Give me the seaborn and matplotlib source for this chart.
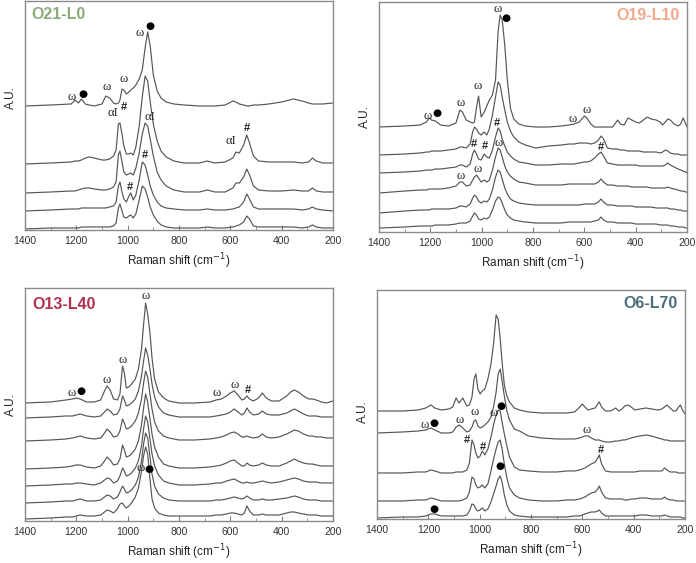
import pandas as pd
import seaborn as sns
import matplotlib.pyplot as plt
from matplotlib.ticker import MultipleLocator

# Raman spectra, stacked intensities (A.U.), top trace first

wn_o21 = [1400, 1300, 1220, 1205, 1192, 1180, 1165, 1150, 1130, 1100,
          1085, 1070, 1055, 1045, 1036, 1030, 1022, 1015, 1005, 995,
          988, 978, 968, 955, 943, 932, 922, 912, 900, 885,
          870, 850, 820, 780, 720, 690, 660, 620, 590, 578,
          565, 548, 536, 525, 510, 490, 450, 400, 354, 320,
          295, 280, 265, 240, 200]
o21_traces = [
    [124, 125, 126, 130, 127, 131, 126, 125, 124, 126,
     134, 132, 127, 126, 127, 130, 141, 140, 136, 138,
     140, 142, 145, 151, 160, 182, 198, 184, 155, 139,
     132, 128, 126, 125, 124, 124, 124, 125, 129, 128,
     126, 125, 124, 124, 125, 125, 126, 128, 131, 129,
     127, 126, 126, 126, 127],
    [66, 67, 68, 69, 69, 70, 72, 73, 72, 70,
     70, 71, 74, 80, 106, 107, 96, 84, 76, 76,
     77, 75, 83, 104, 133, 154, 149, 128, 106, 89,
     79, 73, 69, 67, 67, 69, 67, 68, 72, 78,
     77, 85, 95, 87, 74, 69, 68, 68, 68, 67,
     68, 72, 69, 67, 67],
    [37, 38, 39, 39, 40, 41, 42, 42, 41, 40,
     40, 41, 43, 48, 75, 79, 68, 58, 55, 56,
     57, 55, 62, 77, 96, 107, 104, 91, 74, 58,
     50, 44, 40, 38, 38, 40, 38, 38, 42, 47,
     47, 53, 61, 55, 44, 40, 39, 39, 40, 39,
     39, 42, 39, 38, 38],
    [19, 20, 21, 21, 21, 22, 22, 22, 22, 22,
     22, 23, 24, 28, 44, 48, 38, 31, 28, 34,
     37, 30, 35, 50, 68, 65, 55, 44, 35, 28,
     24, 22, 21, 20, 20, 21, 20, 20, 21, 22,
     23, 28, 36, 31, 23, 21, 21, 21, 21, 20,
     21, 23, 21, 20, 19],
    [1, 2, 2, 2, 2, 3, 3, 3, 3, 3,
     3, 3, 4, 7, 22, 26, 19, 13, 12, 14,
     15, 12, 16, 30, 44, 41, 33, 23, 15, 9,
     5, 3, 2, 2, 2, 3, 2, 2, 3, 4,
     5, 8, 14, 11, 4, 3, 3, 3, 3, 2,
     3, 5, 3, 2, 2],
]

wn_o19 = [1400, 1300, 1240, 1215, 1205, 1195, 1180, 1160, 1130, 1100,
          1085, 1075, 1060, 1045, 1035, 1028, 1020, 1012, 1002, 990,
          980, 970, 958, 946, 936, 928, 920, 910, 900, 888,
          875, 855, 830, 790, 740, 690, 660, 640, 620, 600,
          590, 575, 560, 545, 535, 525, 510, 490, 470, 460,
          445, 430, 415, 400, 385, 370, 355, 340, 320, 305,
          295, 285, 275, 265, 250, 235, 225, 215, 205, 200]
o19_traces = [
    [105, 106, 107, 110, 114, 112, 111, 107, 106, 109,
     122, 120, 112, 110, 109, 110, 125, 136, 115, 120,
     126, 132, 137, 152, 200, 217, 212, 187, 152, 124,
     113, 108, 106, 105, 105, 106, 107, 108, 110, 116,
     114, 108, 105, 105, 105, 105, 105, 105, 112, 108,
     107, 114, 112, 110, 109, 112, 115, 113, 112, 110,
     107, 110, 113, 112, 108, 106, 108, 114, 108, 105],
    [77, 78, 79, 80, 80, 81, 81, 81, 82, 83,
     85, 85, 84, 88, 100, 105, 103, 99, 97, 100,
     97, 103, 117, 135, 150, 147, 135, 122, 110, 101,
     95, 90, 87, 84, 86, 87, 88, 88, 89, 89,
     89, 88, 89, 92, 96, 93, 84, 83, 83, 82,
     82, 81, 81, 81, 81, 80, 80, 80, 80, 79,
     80, 82, 81, 79, 78, 78, 77, 77, 77, 77],
    [59, 60, 61, 62, 62, 62, 63, 63, 64, 65,
     67, 67, 65, 68, 78, 82, 78, 73, 72, 78,
     75, 74, 82, 95, 104, 101, 93, 86, 80, 76,
     73, 70, 69, 67, 67, 68, 68, 68, 69, 70,
     70, 71, 74, 78, 80, 76, 69, 68, 67, 67,
     67, 67, 67, 67, 66, 66, 66, 66, 66, 66,
     66, 67, 69, 67, 65, 63, 62, 61, 60, 59],
    [39, 41, 42, 42, 43, 43, 43, 43, 44, 46,
     50, 50, 46, 47, 52, 55, 57, 54, 50, 52,
     50, 52, 62, 75, 84, 82, 75, 66, 60, 56,
     53, 50, 49, 47, 47, 47, 48, 48, 48, 48,
     48, 48, 48, 50, 53, 50, 47, 47, 46, 46,
     46, 46, 45, 45, 45, 45, 45, 44, 44, 44,
     44, 44, 45, 44, 43, 42, 41, 41, 40, 40],
    [19, 21, 22, 22, 22, 23, 23, 23, 23, 24,
     26, 26, 25, 28, 34, 37, 35, 31, 29, 31,
     30, 33, 42, 55, 62, 60, 53, 44, 38, 33,
     31, 29, 28, 27, 27, 27, 27, 27, 27, 28,
     28, 28, 28, 30, 33, 30, 27, 27, 26, 26,
     26, 26, 26, 25, 25, 25, 25, 25, 24, 24,
     24, 24, 24, 23, 23, 22, 22, 21, 21, 21],
    [4, 5, 6, 6, 6, 6, 7, 7, 7, 8,
     9, 9, 9, 11, 16, 19, 17, 13, 12, 14,
     13, 15, 22, 31, 35, 34, 29, 22, 17, 14,
     12, 11, 10, 9, 9, 9, 10, 10, 10, 10,
     10, 10, 11, 12, 15, 12, 10, 10, 9, 9,
     9, 9, 9, 8, 8, 8, 8, 8, 8, 7,
     7, 7, 7, 6, 6, 5, 5, 5, 4, 4],
]

wn_o13 = [1400, 1300, 1240, 1215, 1200, 1185, 1160, 1130, 1105, 1090,
          1080, 1068, 1055, 1040, 1030, 1020, 1013, 1005, 995, 985,
          970, 958, 946, 938, 930, 922, 913, 905, 895, 880,
          860, 840, 800, 740, 680, 655, 635, 615, 600, 585,
          570, 555, 545, 535, 525, 510, 490, 475, 460, 440,
          410, 380, 365, 350, 335, 315, 295, 280, 265, 245,
          225, 200]
o13_traces = [
    [118, 119, 121, 122, 123, 122, 119, 119, 121, 130,
     135, 131, 122, 121, 127, 155, 148, 133, 134, 137,
     142, 152, 172, 196, 218, 207, 188, 163, 142, 129,
     123, 120, 118, 118, 119, 121, 122, 125, 128, 130,
     126, 121, 122, 125, 122, 120, 123, 128, 123, 120,
     120, 125, 129, 131, 129, 125, 122, 122, 121, 119,
     118, 120],
    [103, 104, 105, 105, 106, 107, 105, 104, 105, 109,
     112, 110, 106, 107, 112, 125, 121, 115, 116, 118,
     122, 130, 145, 160, 173, 166, 152, 137, 124, 114,
     108, 106, 104, 104, 104, 105, 106, 107, 109, 112,
     109, 106, 108, 113, 109, 106, 107, 110, 107, 106,
     106, 108, 110, 112, 110, 107, 105, 105, 105, 104,
     104, 104],
    [80, 81, 82, 83, 84, 85, 83, 82, 83, 88,
     92, 89, 84, 85, 90, 102, 98, 92, 93, 95,
     100, 108, 122, 138, 150, 144, 127, 112, 99, 90,
     85, 83, 81, 81, 82, 83, 84, 86, 88, 89,
     87, 84, 84, 85, 84, 83, 84, 87, 84, 83,
     84, 87, 89, 91, 90, 87, 85, 85, 84, 84,
     83, 83],
    [52, 53, 54, 55, 56, 56, 54, 53, 55, 60,
     64, 61, 56, 57, 62, 76, 71, 64, 65, 67,
     72, 80, 96, 113, 127, 119, 102, 87, 74, 64,
     57, 55, 53, 53, 54, 55, 56, 58, 60, 61,
     58, 55, 55, 58, 56, 55, 56, 58, 56, 55,
     55, 58, 60, 62, 60, 58, 57, 57, 56, 55,
     55, 55],
    [35, 36, 37, 37, 38, 38, 37, 36, 38, 41,
     43, 42, 38, 40, 45, 53, 50, 45, 46, 48,
     53, 60, 75, 92, 105, 99, 82, 67, 55, 46,
     40, 38, 36, 36, 37, 38, 38, 40, 41, 42,
     40, 38, 38, 39, 38, 38, 39, 40, 39, 38,
     39, 41, 42, 43, 42, 40, 39, 39, 39, 38,
     38, 38],
    [18, 19, 20, 20, 21, 22, 20, 20, 21, 24,
     26, 25, 22, 24, 29, 35, 32, 28, 29, 31,
     36, 44, 60, 77, 88, 83, 64, 47, 35, 27,
     23, 21, 20, 20, 20, 21, 21, 22, 23, 24,
     23, 22, 23, 25, 23, 21, 21, 22, 21, 21,
     22, 23, 24, 25, 24, 22, 21, 21, 21, 20,
     20, 20],
    [2, 3, 4, 4, 5, 6, 5, 5, 6, 9,
     11, 10, 8, 12, 17, 18, 15, 13, 15, 18,
     24, 33, 50, 65, 74, 67, 42, 22, 13, 8,
     6, 5, 5, 5, 5, 6, 6, 7, 8, 8,
     7, 6, 8, 15, 10, 6, 6, 7, 6, 6,
     6, 8, 9, 9, 8, 7, 6, 6, 6, 5,
     5, 5],
]

wn_o6 = [1400, 1300, 1240, 1210, 1190, 1175, 1150, 1120, 1105, 1092,
         1080, 1066, 1050, 1040, 1030, 1022, 1015, 1007, 998, 990,
         980, 968, 956, 946, 936, 928, 920, 912, 904, 894,
         884, 865, 845, 810, 760, 700, 660, 630, 610, 600,
         590, 578, 565, 550, 540, 534, 525, 510, 490, 470,
         458, 445, 435, 422, 410, 395, 375, 352, 330, 305,
         290, 280, 270, 258, 245, 235, 225, 218, 210, 200]
o6_traces = [
    [108, 108, 109, 111, 114, 111, 109, 110, 112, 121,
     116, 121, 113, 114, 122, 140, 145, 130, 125, 128,
     130, 140, 155, 175, 204, 200, 180, 155, 134, 123,
     117, 111, 109, 107, 106, 106, 106, 107, 112, 115,
     112, 109, 110, 111, 115, 117, 112, 108, 108, 111,
     108, 110, 113, 114, 112, 109, 110, 111, 110, 109,
     110, 112, 114, 111, 108, 108, 112, 114, 109, 105],
    [86, 87, 88, 89, 91, 89, 86, 86, 87, 92,
     94, 91, 87, 88, 92, 98, 99, 93, 91, 92,
     94, 97, 102, 112, 127, 145, 150, 137, 123, 108,
     99, 90, 88, 83, 81, 80, 80, 80, 81, 82,
     83, 83, 81, 79, 79, 79, 78, 77, 77, 78,
     78, 79, 79, 80, 81, 82, 83, 84, 83, 81,
     80, 79, 79, 78, 78, 78, 78, 78, 78, 78],
    [46, 46, 47, 47, 49, 48, 46, 46, 46, 47,
     47, 47, 49, 56, 79, 74, 66, 61, 63, 68,
     64, 70, 82, 94, 104, 109, 108, 96, 85, 73,
     62, 52, 49, 48, 47, 47, 48, 48, 49, 50,
     51, 53, 55, 57, 61, 64, 55, 48, 47, 47,
     47, 47, 47, 47, 47, 47, 48, 48, 48, 48,
     48, 51, 49, 47, 47, 47, 46, 46, 46, 46],
    [18, 18, 19, 19, 21, 20, 18, 18, 18, 18,
     18, 19, 21, 27, 42, 40, 34, 31, 32, 34,
     31, 35, 48, 60, 70, 77, 79, 69, 55, 41,
     31, 24, 21, 19, 18, 18, 19, 19, 20, 21,
     22, 24, 26, 27, 30, 33, 27, 21, 20, 20,
     20, 20, 19, 19, 20, 20, 21, 21, 20, 20,
     20, 22, 20, 19, 19, 18, 18, 18, 18, 18],
    [1, 2, 2, 3, 5, 5, 3, 3, 3, 3,
     3, 3, 4, 8, 15, 14, 10, 8, 9, 11,
     8, 10, 17, 25, 33, 40, 43, 36, 24, 14,
     8, 4, 3, 2, 2, 2, 2, 3, 3, 4,
     5, 6, 7, 7, 8, 9, 6, 3, 3, 3,
     3, 3, 3, 3, 3, 3, 4, 4, 3, 3,
     3, 4, 3, 2, 2, 2, 2, 2, 1, 1],
]

# peak labels: (symbol, wavenumber, A.U.)
o21_marks = [("ω", 1218, 133), ("●", 1173, 136), ("ω", 1082, 143), ("ω", 1017, 151),
             ("ω", 952, 197), ("●", 913, 204), ("αI", 1058, 117), ("#", 1014, 123),
             ("αI", 915, 113), ("#", 932, 75), ("#", 993, 43), ("αI", 599, 89),
             ("#", 536, 102)]
o19_marks = [("ω", 1209, 116), ("●", 1173, 119), ("ω", 1082, 129), ("ω", 1017, 146),
             ("ω", 936, 223), ("●", 904, 214), ("#", 939, 109), ("#", 1030, 88),
             ("#", 986, 86), ("ω", 934, 89), ("ω", 1082, 56), ("ω", 1017, 63),
             ("ω", 644, 113), ("ω", 590, 122), ("#", 536, 85)]
o13_marks = [("ω", 1218, 128), ("●", 1182, 130), ("ω", 1082, 141), ("ω", 1021, 161),
             ("ω", 930, 225), ("ω", 949, 53), ("●", 916, 52), ("ω", 653, 128),
             ("ω", 582, 136), ("#", 530, 131)]
o6_marks = [("ω", 1213, 94), ("●", 1177, 96), ("ω", 1079, 99), ("ω", 1018, 107),
            ("ω", 945, 106), ("●", 917, 113), ("#", 1049, 79), ("#", 986, 72),
            ("●", 921, 53), ("●", 1180, 10), ("ω", 582, 89), ("#", 527, 69)]

panel_names = ["O21-L0", "O19-L10", "O13-L40", "O6-L70"]
panel_colors = ["#8daa7b", "#f2a98a", "#b3304f", "#4c6c7b"]


def stack_frame(wn, traces):
    parts = [pd.DataFrame({"wn": wn, "au": tr, "trace": i}) for i, tr in enumerate(traces)]
    return pd.concat(parts, ignore_index=True)


def put_mark(ax, sym, x, y):
    if sym == "●":
        ax.text(x, y, sym, ha="center", va="center", fontsize=7.5,
                family=["DejaVu Sans"], color="black")
    elif sym == "#":
        ax.text(x, y, sym, ha="center", va="center", fontsize=8,
                fontweight="bold", color="#222222")
    else:
        ax.text(x, y, sym, ha="center", va="center", fontsize=9,
                family=["Liberation Serif", "DejaVu Serif"], color="#222222")


sns.set_style("white")
plt.rcParams["font.family"] = ["Liberation Sans", "DejaVu Sans"]

fig = plt.figure(figsize=(6.96, 5.63), dpi=100)

boxes = [[0.0359, 0.5915, 0.4425, 0.4067],
         [0.5445, 0.5879, 0.4426, 0.4085],
         [0.0359, 0.0746, 0.4425, 0.4139],
         [0.5417, 0.0782, 0.4425, 0.4067]]
ymaxes = [229, 230, 233, 229]
ylab_y = [0.58, 0.5, 0.5, 0.47]
title_pos = [(0.022, 0.943, "left"), (0.977, 0.943, "right"),
             (0.023, 0.927, "left"), (0.977, 0.943, "right")]
data = [(wn_o21, o21_traces, o21_marks), (wn_o19, o19_traces, o19_marks),
        (wn_o13, o13_traces, o13_marks), (wn_o6, o6_traces, o6_marks)]

for k, (wn, traces, marks) in enumerate(data):
    ax = fig.add_axes(boxes[k])
    df = stack_frame(wn, traces)
    sns.lineplot(data=df, x="wn", y="au", units="trace", estimator=None,
                 color="#555555", lw=0.85, ax=ax, legend=False)
    for sym, x, y in marks:
        put_mark(ax, sym, x, y)

    ax.set_xlim(1400, 200)
    ax.set_ylim(0, ymaxes[k])
    ax.set_yticks([])
    ax.xaxis.set_major_locator(MultipleLocator(200))
    ax.xaxis.set_minor_locator(MultipleLocator(100))
    ax.tick_params(axis="x", which="both", direction="in", bottom=True, top=False,
                   colors="#333333", labelsize=7.5, pad=4.5)
    ax.tick_params(axis="x", which="major", length=3.5, color="#808080")
    ax.tick_params(axis="x", which="minor", length=2, color="#808080")
    for s in ax.spines.values():
        s.set_color("#8a8a8a")
        s.set_linewidth(1.0)
    ax.set_xlabel("Raman shift (cm$^{-1}$)", fontsize=8.5, labelpad=4, color="#222222")
    ax.set_ylabel("A.U.", fontsize=8.5, color="#222222")
    ax.yaxis.set_label_coords(-0.027, ylab_y[k])

    tx, ty, ha = title_pos[k]
    ax.text(tx, ty, panel_names[k], transform=ax.transAxes, ha=ha, va="center",
            fontsize=11.5, fontweight="bold", color=panel_colors[k])

fig.savefig("out.png", dpi=100)
